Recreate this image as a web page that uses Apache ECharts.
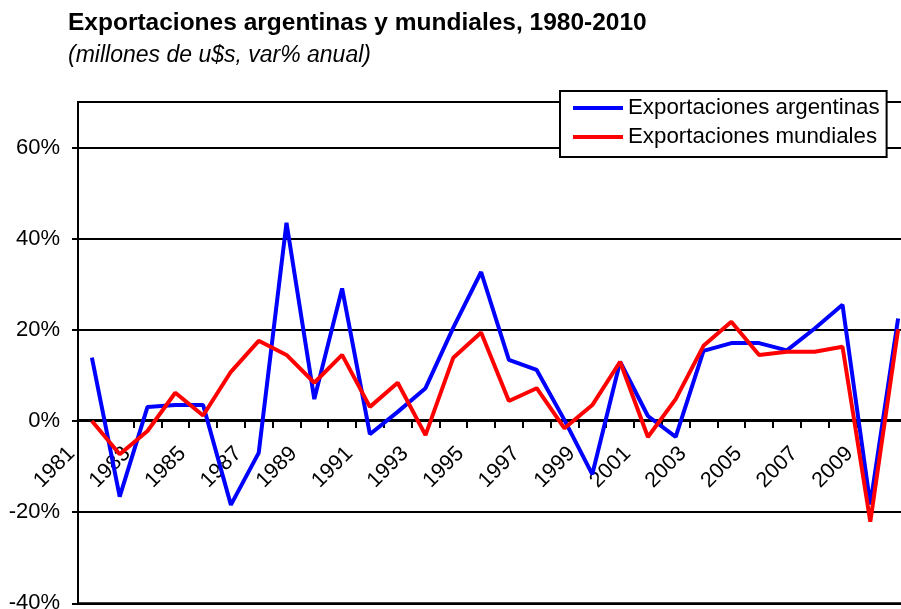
<!DOCTYPE html>
<html><head><meta charset="utf-8">
<script src="https://cdn.jsdelivr.net/npm/echarts@6/dist/echarts.min.js"></script>
<style>html,body{margin:0;padding:0;background:#fff}#c{width:901px;height:609px}</style>
</head><body><div id="c"></div>
<script>
const years = ['1981','1982','1983','1984','1985','1986','1987','1988','1989','1990',
  '1991','1992','1993','1994','1995','1996','1997','1998','1999','2000',
  '2001','2002','2003','2004','2005','2006','2007','2008','2009','2010'];
const argentinas = [13.9,-16.6,3.1,3.5,3.5,-18.4,-7.0,43.5,4.8,29.1,
  -2.9,2.0,7.2,20.5,32.7,13.4,11.2,0.2,-11.7,13.0,
  1.1,-3.5,15.4,17.1,17.1,15.5,20.3,25.5,-18.3,22.5];
const mundiales = [0.0,-7.3,-2.2,6.2,1.2,10.8,17.6,14.5,8.4,14.5,
  3.1,8.4,-3.1,13.9,19.4,4.4,7.2,-1.6,3.5,13.0,
  -3.5,4.8,16.5,21.8,14.5,15.2,15.2,16.3,-22.1,20.1];
const yTicks = [-40,-20,0,20,40,60];
const titleText = 'Exportaciones argentinas y mundiales, 1980-2010';
const subtitleText = '(millones de u$s, var% anual)';
const seriesNames = ['Exportaciones argentinas','Exportaciones mundiales'];

const FF = '"Liberation Sans", Arial, sans-serif';
const chart = echarts.init(document.getElementById('c'), null, {renderer:'canvas'});
chart.setOption({
  animation: false,
  backgroundColor: '#fff',
  title: [
    {text: titleText, left: 68, top: 11, padding: 0,
     textStyle: {fontFamily: FF, fontSize: 24.5, fontWeight: 'bold', color: '#000'}},
    {text: subtitleText, left: 68, top: 44, padding: 0,
     textStyle: {fontFamily: FF, fontSize: 23, fontStyle: 'italic', fontWeight: 'normal', color: '#000'}}
  ],
  legend: {
    data: seriesNames,
    orient: 'vertical', left: 560, top: 91,
    padding: [6, 7, 9, 13], itemGap: 7, itemWidth: 50, itemHeight: 4, icon: 'rect',
    backgroundColor: '#fff', borderColor: '#000', borderWidth: 2, borderRadius: 0,
    textStyle: {fontFamily: FF, fontSize: 22.3, color: '#000'}
  },
  grid: {left: 78, top: 102, right: -11, bottom: 5.7, show: true,
    borderColor: '#000', borderWidth: 2, backgroundColor: 'transparent',
    containLabel: false, outerBoundsMode: 'none'},
  xAxis: {
    type: 'category', data: years, boundaryGap: true, position: 'bottom', offset: -183.4,
    axisLine: {onZero: false, lineStyle: {color: '#000', width: 2}},
    axisTick: {show: true, length: 8, interval: 0, lineStyle: {color: '#000', width: 2}},
    axisLabel: {show: true, interval: 1, rotate: 45, margin: 10, hideOverlap: false,
      formatter: v => '{t|' + v + '}{s|}',
      rich: {t: {fontFamily: FF, fontSize: 21.5, color: '#000'}, s: {width: 29}},
      fontFamily: FF, fontSize: 21.5, color: '#000'},
    splitLine: {show: false}
  },
  yAxis: {
    type: 'value', min: -40, max: 70, interval: 20,
    axisLine: {show: true, lineStyle: {color: '#000', width: 2}},
    axisTick: {show: true, length: 6, customValues: yTicks, lineStyle: {color: '#000', width: 2}},
    axisLabel: {customValues: yTicks, formatter: v => v + '%', margin: 18,
      fontFamily: FF, fontSize: 22, color: '#000'},
    splitLine: {show: true, lineStyle: {color: '#000', width: 2}}
  },
  series: [
    {name: seriesNames[0], type: 'line', data: argentinas, showSymbol: false, symbol: 'none',
     lineStyle: {color: '#0000FF', width: 4}, itemStyle: {color: '#0000FF'}, z: 3},
    {name: seriesNames[1], type: 'line', data: mundiales, showSymbol: false, symbol: 'none',
     lineStyle: {color: '#FF0000', width: 4}, itemStyle: {color: '#FF0000'}, z: 4}
  ]
});
</script></body></html>
